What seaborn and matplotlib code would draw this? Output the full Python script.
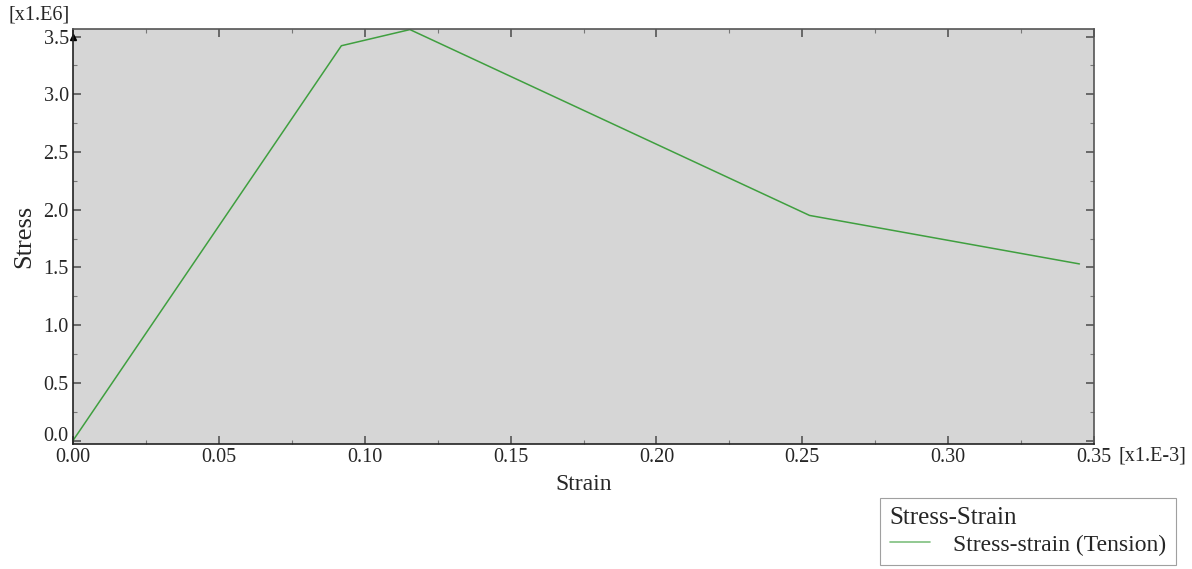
import matplotlib
matplotlib.use("Agg")
import seaborn as sns
import pandas as pd
import matplotlib.pyplot as plt
import matplotlib.transforms as mtransforms
from matplotlib.ticker import MultipleLocator

# strain in units of 1e-3, stress in units of 1e6
strain = [0.0, 0.092, 0.1155, 0.2525, 0.345]
stress = [0.0, 3.42, 3.56, 1.95, 1.53]
series_name = "Stress-strain (Tension)"
legend_title = "Stress-Strain"
xticks = [0.0, 0.05, 0.10, 0.15, 0.20, 0.25, 0.30, 0.35]
yticks = [0.0, 0.5, 1.0, 1.5, 2.0, 2.5, 3.0, 3.5]

df = pd.DataFrame({"Strain": strain, "Stress": stress, "curve": series_name})

sns.set_theme(style="ticks")
plt.rcParams['font.family'] = ['Liberation Serif', 'DejaVu Serif']

fig = plt.figure(figsize=(11.92, 5.69), dpi=100, facecolor="w")
ax = fig.add_axes([73 / 1192, 1 - 444 / 569, (1094 - 73) / 1192, (444 - 29) / 569])
ax.set_facecolor("#d6d6d6")

sns.lineplot(data=df, x="Strain", y="Stress", hue="curve", palette=["#3f9f3f"],
             linewidth=1.1, sort=False, ax=ax, legend=False)

ax.set_xlim(0, 0.35)
ax.set_ylim(-0.03, 3.565)
ax.set_xticks(xticks)
ax.set_xticklabels(["%.2f" % v for v in xticks])
ax.set_yticks(yticks)
ax.set_yticklabels(["%.1f" % v for v in yticks])
ax.xaxis.set_minor_locator(MultipleLocator(0.025))
ax.yaxis.set_minor_locator(MultipleLocator(0.25))

ax.tick_params(which="major", direction="in", length=6, width=1.2, color="#555555",
               labelsize=14.5, top=True, right=True, pad=3)
ax.tick_params(which="minor", direction="in", length=3, width=0.8, color="#777777",
               top=True, right=True)
for s in ax.spines.values():
    s.set_color("#555555")
    s.set_linewidth(1.2)
ax.spines["left"].set_color("#222222")
ax.spines["bottom"].set_color("#222222")

# lift the bottom y label a bit, as in the original export
lbl0 = ax.get_yticklabels()[0]
lbl0.set_transform(lbl0.get_transform() + mtransforms.ScaledTranslation(0, 5 / 72, fig.dpi_scale_trans))

ax.set_xlabel("Strain", fontsize=17, labelpad=5)
ax.set_ylabel("Stress", fontsize=19, labelpad=6)
fig.text(8 / 1192, 1 - 15 / 569, "[x1.E6]", fontsize=14.5, va="center", ha="left")
fig.text(1119 / 1192, 1 - 456 / 569, "[x1.E-3]", fontsize=14.5, va="center", ha="left")
ax.plot([0], [3.5], marker="^", color="black", markersize=5, clip_on=False)

handle = plt.Line2D([], [], color="#7fc07f", linewidth=1.2)
leg = fig.legend([handle], [series_name], title=legend_title, loc="upper right",
                 bbox_to_anchor=(1176 / 1192, 1 - 498 / 569), fontsize=17,
                 title_fontsize=18, frameon=True, fancybox=False,
                 handlelength=1.7, handletextpad=1.0, borderpad=0.4,
                 labelspacing=0.2, borderaxespad=0)
leg._legend_box.align = "left"
leg.get_frame().set_edgecolor("#888888")
leg.get_frame().set_linewidth(0.8)

fig.savefig("out.png", dpi=100)
